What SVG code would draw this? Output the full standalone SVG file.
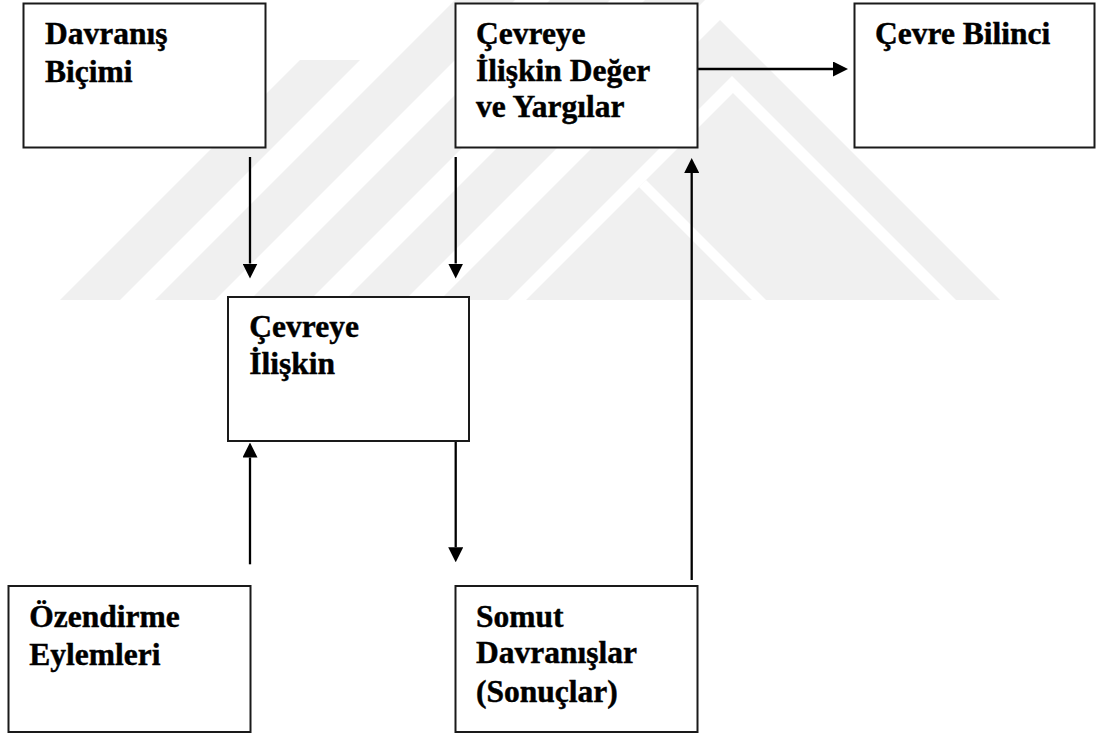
<svg xmlns="http://www.w3.org/2000/svg" width="1096" height="734" viewBox="0 0 1096 734">
  <defs>
    <style>
      .wm { fill: #f0f0f0; stroke: none; }
      .wmgap { fill: #ffffff; stroke: none; }
      .box { fill: #ffffff; stroke: #1a1a1a; stroke-width: 2; }
      .lbl { font-family: "Liberation Serif", "Times New Roman", serif; font-weight: bold; font-size: 31.5px; fill: #000000; stroke: #000000; stroke-width: 0.45; }
      .conn { fill: none; stroke: #000000; stroke-width: 2.3; }
    </style>
    <marker id="ah" viewBox="0 0 15 15" refX="0" refY="7.5" markerWidth="15" markerHeight="15" markerUnits="userSpaceOnUse" orient="auto">
      <path d="M0,0 L15,7.5 L0,15 z" fill="#000000"/>
    </marker>
  </defs>
  <rect width="1096" height="734" fill="#ffffff"/>
  <g id="watermark">
    <polygon class="wm" points="60,300 120,300 360,60 300,60"/>
    <polygon class="wm" points="155,300 215,300 515,0 455,0"/>
    <polygon class="wm" points="250,300 310,300 610,0 550,0"/>
    <polygon class="wm" points="345,300 405,300 705,0 645,0"/>
    <polygon class="wm" points="440,300 720,20 1000,300"/>
    <polygon class="wmgap" points="508,300 732,76 956,300 940,300 733,93 526,300"/>
    <polygon class="wmgap" points="639,187 646,180 766,300 752,300"/>
  </g>
  <g id="connectors">
    <path class="conn" d="M250,157 V263.5" marker-end="url(#ah)"/>
    <path class="conn" d="M455.7,157 V263.5" marker-end="url(#ah)"/>
    <path class="conn" d="M691.7,69 H833" marker-end="url(#ah)"/>
    <path class="conn" d="M250,564.3 V457.5" marker-end="url(#ah)"/>
    <path class="conn" d="M455.7,441 V547.3" marker-end="url(#ah)"/>
    <path class="conn" d="M691.7,580 V173" marker-end="url(#ah)"/>
  </g>
  <g id="node-davranis-bicimi">
    <rect class="box" x="23.5" y="3.5" width="242" height="144"/>
    <text class="lbl" x="45" y="44.3">Davranış</text>
    <text class="lbl" x="45" y="81.7">Biçimi</text>
  </g>
  <g id="node-deger-yargilar">
    <rect class="box" x="455.5" y="3.5" width="242" height="144"/>
    <text class="lbl" x="476" y="44.3">Çevreye</text>
    <text class="lbl" x="476" y="81">İlişkin Değer</text>
    <text class="lbl" x="476" y="117.3">ve Yargılar</text>
  </g>
  <g id="node-cevre-bilinci">
    <rect class="box" x="854.5" y="3.5" width="240" height="144"/>
    <text class="lbl" x="875" y="44.3">Çevre Bilinci</text>
  </g>
  <g id="node-cevreye-iliskin">
    <rect class="box" x="228" y="297" width="241" height="144"/>
    <text class="lbl" x="249.3" y="336.7">Çevreye</text>
    <text class="lbl" x="249.3" y="374">İlişkin</text>
  </g>
  <g id="node-ozendirme">
    <rect class="box" x="8.5" y="586" width="242" height="146"/>
    <text class="lbl" x="29.3" y="627.3">Özendirme</text>
    <text class="lbl" x="29.3" y="665">Eylemleri</text>
  </g>
  <g id="node-somut">
    <rect class="box" x="455.5" y="586" width="242" height="146"/>
    <text class="lbl" x="476" y="626.7">Somut</text>
    <text class="lbl" x="476" y="663.3">Davranışlar</text>
    <text class="lbl" x="476" y="701.7">(Sonuçlar)</text>
  </g>
</svg>
